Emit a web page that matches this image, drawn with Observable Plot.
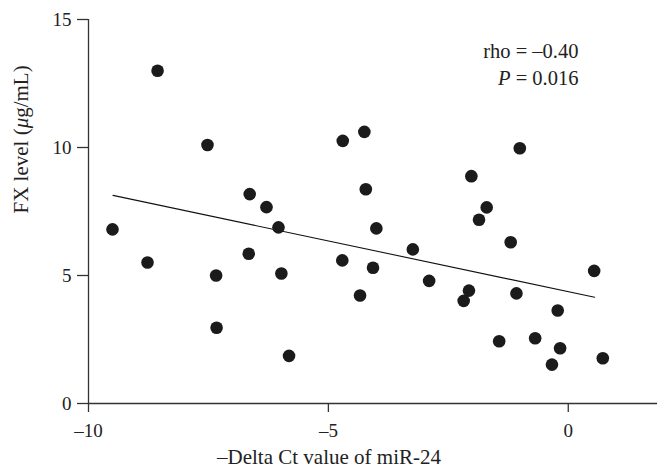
<!DOCTYPE html>
<html>
<head>
<meta charset="utf-8">
<script src="https://cdn.jsdelivr.net/npm/d3@7"></script>
<script src="https://cdn.jsdelivr.net/npm/@observablehq/plot@0.6"></script>
<style>
  html, body { margin: 0; padding: 0; background: #fff; }
</style>
</head>
<body>
<div id="chart"></div>
<script>
// Data
const deltaCt = [-8.56, -7.52, -6.64, -6.29, -6.04, -9.50,
                 -4.70, -4.25, -1.01, -2.02, -4.22, -1.70, -1.86, -4.00,
                 -8.77, -6.66, -7.34, -5.98, -7.33, -5.82,
                 -4.71, -4.07, -3.24, -4.34, -2.90, -2.07, -2.18, -1.20,
                 -1.08, 0.54, -0.22, -1.44, -0.69, -0.17, -0.34, 0.72];
const fxLevel = [13.0, 10.1, 8.18, 7.67, 6.88, 6.80,
                 10.26, 10.61, 9.97, 8.88, 8.37, 7.66, 7.18, 6.84,
                 5.51, 5.85, 5.0, 5.08, 2.96, 1.86,
                 5.59, 5.30, 6.02, 4.22, 4.79, 4.41, 4.01, 6.30,
                 4.30, 5.18, 3.63, 2.43, 2.55, 2.16, 1.52, 1.77];
const fitX = [-9.49, 0.55];
const fitY = [8.13, 4.15];
const xTicks = [-10, -5, 0];
const yTicks = [0, 5, 10, 15];
const xLabel = "\u2013Delta Ct value of miR-24";
const yLabel = "FX level (\u03bcg/mL)";
const statLines = ["rho = \u20130.40", "P = 0.016"];

const points = deltaCt.map((x, i) => ({x, y: fxLevel[i]}));
const fit = fitX.map((x, i) => ({x, y: fitY[i]}));

const axisColor = "#333";
const font = "'Liberation Serif', 'DejaVu Serif', serif";

const chart = Plot.plot({
  width: 657,
  height: 472,
  marginLeft: 88,
  marginTop: 19,
  marginBottom: 69,
  marginRight: 0,
  style: {fontFamily: font, fontSize: "19px", color: "#222", background: "#fff"},
  x: {domain: [-10, 1.86]},
  y: {domain: [0, 15]},
  marks: [
    Plot.ruleY([0], {stroke: axisColor, strokeWidth: 1.3}),
    Plot.ruleX([-10], {stroke: axisColor, strokeWidth: 1.3}),
    Plot.axisY({ticks: yTicks, tickSize: 11, tickPadding: 6, label: null, stroke: axisColor, strokeWidth: 1.3, fill: "#222", fontFamily: font}),
    Plot.axisX({ticks: xTicks, tickSize: 9, tickPadding: 11, label: null, stroke: axisColor, strokeWidth: 1.3, fill: "#222", fontFamily: font,
      tickFormat: d => d < 0 ? "\u2013" + Math.abs(d) : String(d)}),
    Plot.line(fit, {x: "x", y: "y", stroke: "#111", strokeWidth: 1.1}),
    Plot.dot(points, {x: "x", y: "y", r: 6.3, fill: "#1b1b1b", stroke: "none"}),
    Plot.text([xLabel], {frameAnchor: "bottom", dx: -44, dy: 60, fontSize: 21, fill: "#222", fontFamily: font}),
    Plot.text([yLabel], {frameAnchor: "left", rotate: -90, dx: -67, dy: 2, fontSize: 21, fill: "#222", fontFamily: font, className: "ylab"}),
    Plot.text([statLines[0]], {frameAnchor: "top-right", dx: -79, dy: 24, textAnchor: "end", fontSize: 20.5, fill: "#222", fontFamily: font}),
    Plot.text([statLines[1]], {frameAnchor: "top-right", dx: -79, dy: 51, textAnchor: "end", fontSize: 20.5, fill: "#222", fontFamily: font, className: "pval"})
  ]
});

// italicize P and mu
d3.select(chart).selectAll(".pval text").each(function() {
  const t = d3.select(this);
  const s = t.text();
  t.text(null);
  t.append("tspan").attr("font-style", "italic").text(s.slice(0, 1));
  t.append("tspan").text(s.slice(1));
});
d3.select(chart).selectAll(".ylab text").each(function() {
  const t = d3.select(this);
  const s = t.text();
  const i = s.indexOf("\u03bc");
  t.text(null);
  t.append("tspan").text(s.slice(0, i));
  t.append("tspan").attr("font-style", "italic").text(s.slice(i, i + 1));
  t.append("tspan").text(s.slice(i + 1));
});

document.getElementById("chart").appendChild(chart);
</script>
</body>
</html>
